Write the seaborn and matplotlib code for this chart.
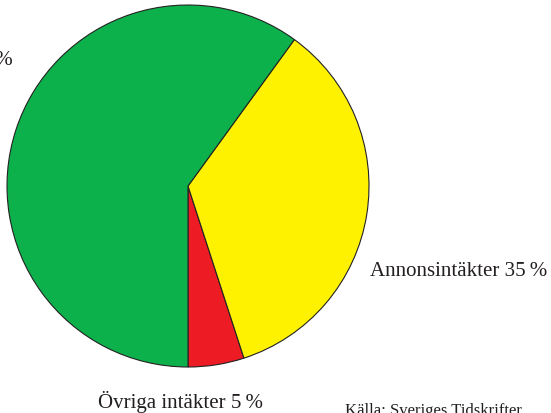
import matplotlib
matplotlib.use("Agg")
import matplotlib.pyplot as plt
import seaborn as sns

# income shares (percent), drawn counter-clockwise from straight down
categories = ['Övriga intäkter', 'Annonsintäkter', 'Upplageintäkter']
shares = [5, 35, 60]
colors = ['#ED1C24', '#FFF200', '#0DB14B']

sns.set_theme(style="white")
plt.rcParams['font.family'] = ['Liberation Serif', 'DejaVu Serif']

fig = plt.figure(figsize=(5.51, 4.13), dpi=100)
ax = fig.add_axes([0, 0, 1, 1])

ax.pie(shares, colors=colors, startangle=270, counterclock=True,
       wedgeprops=dict(edgecolor='#222222', linewidth=0.8))

# axis limits in pie units (radius 1 = ~181 px)
r = 181.0
ax.set_xlim(-188 / r, (551 - 188) / r)
ax.set_ylim(-(413 - 186) / r, 186 / r)
ax.set_aspect('equal')
ax.axis('off')

def px(x, y):
    return ((x - 188) / r, (186 - y) / r)

lab = [f'{c} {v}\u2009%' for c, v in zip(categories, shares)]
tc = '#231f20'
ax.text(*px(370, 272), lab[1], ha='left', va='center', fontsize=15, color=tc)
ax.text(*px(180, 402), lab[0], ha='center', va='center', fontsize=15, color=tc)
ax.text(*px(13, 61), lab[2], ha='right', va='center', fontsize=15, color=tc)
ax.text(*px(345, 411), 'Källa: Sveriges Tidskrifter', ha='left', va='center',
        fontsize=12, color=tc)

fig.savefig('out.png', dpi=100)
